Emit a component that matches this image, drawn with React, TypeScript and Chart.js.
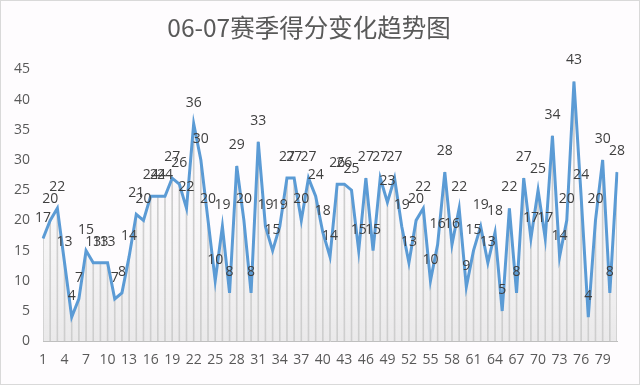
import React, { useEffect, useRef } from "react";
import { Chart, registerables } from "chart.js";

Chart.register(...registerables);

const games: string[] = Array.from({ length: 81 }, (_, i) => String(i + 1));
const points: number[] = [
  17, 20, 22, 13, 4, 7, 15, 13, 13, 13,
  7, 8, 14, 21, 20, 24, 24, 24, 27, 26,
  22, 36, 30, 20, 10, 19, 8, 29, 20, 8,
  33, 19, 15, 19, 27, 27, 20, 27, 24, 18,
  14, 26, 26, 25, 15, 27, 15, 27, 23, 27,
  19, 13, 20, 22, 10, 16, 28, 16, 22, 9,
  15, 19, 13, 18, 5, 22, 8, 27, 17, 25,
  17, 34, 14, 20, 43, 24, 4, 20, 30, 8,
  28,
];
const yTicks: number[] = [0, 5, 10, 15, 20, 25, 30, 35, 40, 45];
const titleText = "06-07赛季得分变化趋势图";

const labelPlugin = {
  id: "valueLabels",
  afterDatasetsDraw(chart: any) {
    const meta = chart.getDatasetMeta(0);
    const ctx = chart.ctx;
    ctx.save();
    ctx.font = '14px "Open Sans"';
    ctx.fillStyle = "#404040";
    ctx.textAlign = "center";
    ctx.textBaseline = "middle";
    meta.data.forEach((el: any, i: number) => {
      ctx.fillText(String(points[i]), el.x, el.y - 21);
    });
    ctx.restore();
  },
};

export default function App() {
  const ref = useRef<HTMLCanvasElement | null>(null);
  useEffect(() => {
    if (!ref.current) return;
    const chart = new Chart(ref.current, {
      type: "line",
      data: {
        labels: games,
        datasets: [
          {
            type: "line",
            data: points,
            borderColor: "#5B9BD5",
            borderWidth: 3,
            pointRadius: 0,
            tension: 0,
            fill: "origin",
            backgroundColor: (c: any) => {
              const area = c.chart.chartArea;
              if (!area) return "rgba(230,230,230,0.5)";
              const g = c.chart.ctx.createLinearGradient(0, area.top, 0, area.bottom);
              g.addColorStop(0, "rgba(255,255,255,0)");
              g.addColorStop(1, "rgba(215,215,215,0.5)");
              return g;
            },
            order: 0,
          } as any,
          {
            type: "bar",
            data: points,
            backgroundColor: "#c4c4c4",
            barThickness: 1,
            order: 1,
          } as any,
        ],
      },
      options: {
        animation: false,
        responsive: false,
        maintainAspectRatio: false,
        layout: { padding: { left: 0, right: 22, top: 0, bottom: 6 } },
        plugins: {
          legend: { display: false },
          tooltip: { enabled: false },
          title: {
            display: true,
            text: titleText,
            color: "#595959",
            font: { family: '"Noto Sans CJK SC"', size: 24.5, weight: "normal" },
            padding: { top: 12, bottom: 27 },
          },
        },
        scales: {
          x: {
            offset: false,
            grid: { display: false, drawTicks: false },
            border: { display: true, color: "#bfbfbf" },
            ticks: {
              autoSkip: false,
              maxRotation: 0,
              padding: 10,
              color: "#595959",
              font: { family: '"Open Sans"', size: 14 },
              callback: (_v: any, i: number) => (i % 3 === 0 ? games[i] : ""),
            },
          },
          y: {
            min: 0,
            max: 45,
            grid: { display: false, drawTicks: false },
            border: { display: false },
            afterBuildTicks: (axis: any) => {
              axis.ticks = yTicks.map((v) => ({ value: v }));
            },
            ticks: {
              padding: 13,
              color: "#595959",
              font: { family: '"Open Sans"', size: 14 },
            },
          },
        },
      },
      plugins: [labelPlugin],
    });
    return () => chart.destroy();
  }, []);
  return (
    <div
      style={{
        position: "fixed",
        left: 0,
        top: 0,
        width: 640,
        height: 385,
        boxSizing: "border-box",
        border: "1px solid #d9d9d9",
        background: "#fefcfe",
      }}
    >
      <canvas ref={ref} width={638} height={383} style={{ display: "block" }} />
    </div>
  );
}
